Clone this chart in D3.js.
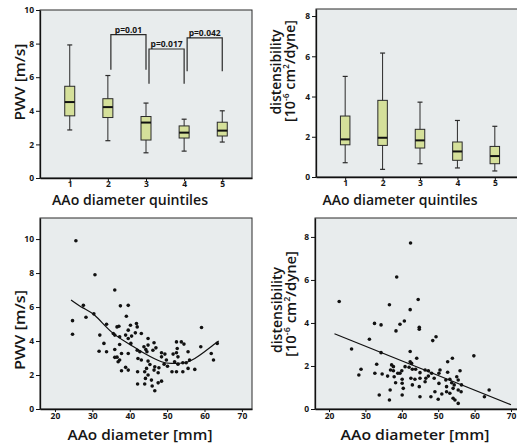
<html>
<head>
<meta charset="utf-8">
<title>PWV and distensibility vs AAo diameter</title>
<style>
  body { margin: 0; background: #fff; }
  text { font-family: "Open Sans", "DejaVu Sans", sans-serif; fill: #161616; }
  .tick text { font-size: 8.5px; font-weight: bold; }
  .axis path, .axis line { stroke: #111; }
  .axis path { stroke-width: 1.3; }
  .title { font-weight: 600; }
</style>
</head>
<body>
<script src="https://cdn.jsdelivr.net/npm/d3@7"></script>
<script>
var width = 517;
var height = 444;

// ---- data ----
var quintiles = ['1', '2', '3', '4', '5'];

// PWV [m/s] by quintile: whisker low, Q1, median, Q3, whisker high
var pwvLow  = [2.86, 2.22, 1.50, 1.60, 2.14];
var pwvQ1   = [3.70, 3.60, 2.26, 2.38, 2.50];
var pwvMed  = [4.52, 4.22, 3.30, 2.70, 2.82];
var pwvQ3   = [5.46, 4.72, 3.66, 3.10, 3.32];
var pwvHigh = [7.92, 6.10, 4.46, 3.50, 4.00];

// distensibility by quintile
var distLow  = [0.71, 0.38, 0.66, 0.45, 0.30];
var distQ1   = [1.60, 1.57, 1.44, 0.83, 0.66];
var distMed  = [1.87, 1.95, 1.82, 1.27, 1.04];
var distQ3   = [3.03, 3.81, 2.37, 1.74, 1.52];
var distHigh = [5.00, 6.16, 3.72, 2.81, 2.52];

// significance brackets (top-left)
var pFrom   = ['2', '3', '4'];
var pTo     = ['3', '4', '5'];
var pTop    = [8.54, 7.68, 8.34];
var pLeg    = [6.45, 5.61, 6.35];
var pLabels = ['p=0.01', 'p=0.017', 'p=0.042'];

var pwvTicks  = [0, 2, 4, 6, 8, 10];
var distTicks = [0, 2, 4, 6, 8];
var diamTicks = [20, 30, 40, 50, 60, 70];

// scatter: AAo diameter [mm] vs PWV [m/s]
var pwvDiam = [25.6, 30.7, 36.0, 24.7, 24.7, 27.6, 28.3, 30.4,
  37.5, 39.6, 39.1, 33.8, 32.0, 33.1, 31.8, 33.8, 35.6, 36.6, 37.1, 36.0,
  37.3, 39.6, 40.2, 41.8, 42.0, 38.9, 39.6, 40.5, 41.5, 43.1, 44.9, 40.3,
  37.3, 36.0, 37.8, 36.0, 36.9, 37.3, 39.6, 42.0, 42.7, 43.8, 44.3, 44.9,
  44.6, 46.2, 42.2, 43.1, 44.9, 45.4, 46.7, 46.5, 47.8, 47.6, 48.5, 49.4,
  48.5, 49.2, 50.1, 37.8, 38.9, 39.6, 42.1, 44.0, 44.5, 44.9, 44.2, 45.8,
  47.6, 48.5, 42.1, 44.0, 46.0, 46.7, 51.6, 52.5, 52.9, 52.5, 53.8, 54.5,
  52.0, 52.9, 54.2, 55.1, 56.0, 55.6, 51.3, 52.5, 54.2, 55.6, 57.4, 59.2,
  59.0, 61.8, 62.4, 63.4, 49.8, 52.7, 47.0, 46.5, 36.6];
var pwvVal = [9.9, 7.9, 7.0, 5.2, 4.4, 6.1, 5.4, 5.6,
  6.07, 6.1, 5.46, 4.99, 4.35, 3.86, 3.4, 3.37, 4.44, 4.83, 4.87, 4.35,
  4.25, 4.64, 4.93, 5.03, 4.83, 4.35, 4.15, 4.29, 4.48, 4.44, 4.15, 3.86,
  3.8, 3.5, 3.27, 3.04, 2.78, 2.88, 3.27, 3.46, 3.37, 3.66, 3.5, 3.76,
  3.37, 3.46, 2.97, 2.88, 2.82, 2.62, 2.48, 2.29, 2.43, 2.13, 3.31, 3.23,
  3.07, 2.64, 2.52, 2.25, 2.45, 2.29, 2.19, 2.19, 2.39, 2.0, 1.8, 1.7,
  1.54, 1.64, 1.47, 1.47, 1.35, 1.07, 3.23, 3.31, 3.07, 3.95, 3.95, 3.82,
  2.78, 2.64, 2.72, 2.72, 2.88, 3.37, 2.19, 2.19, 2.19, 2.39, 2.33, 4.8,
  3.66, 3.27, 2.88, 3.86, 2.88, 3.56, 3.6, 3.9, 3.05];

// fitted curve (PWV)
var pwvFitX = [24.3, 27.5, 30.7, 35.1, 39.6, 44.0, 48.5, 51.1, 54.7, 57.4, 60.0, 62.7, 63.8];
var pwvFitY = [6.42, 5.95, 5.50, 4.54, 3.86, 3.27, 2.78, 2.68, 2.72, 2.97, 3.37, 3.82, 4.00];

// scatter: AAo diameter [mm] vs distensibility
var distDiam = [42.4, 38.6, 22.8, 44.5, 36.6, 42.3,
  32.5, 34.3, 38.4, 39.5, 40.7, 44.8, 44.8, 48.5, 49.4, 31.1, 26.2, 34.3,
  42.3, 44.1, 42.7, 42.0, 37.2, 37.7, 36.9, 37.7, 33.1, 28.8, 28.2, 32.6,
  34.6, 36.1, 37.9, 38.3, 40.0, 39.5, 40.1, 40.1, 40.9, 42.9, 43.8, 45.0,
  46.4, 47.3, 48.2, 42.5, 43.6, 45.0, 46.4, 46.6, 48.9, 44.8, 42.9, 40.1,
  36.6, 33.8, 45.0, 48.0, 49.1, 50.0, 50.2, 51.0, 52.3, 53.2, 54.1, 54.6,
  55.5, 52.3, 52.1, 53.2, 53.7, 54.4, 54.1, 55.5, 56.3, 56.4, 55.5, 55.1,
  56.0, 52.6, 50.5, 50.2, 52.6, 53.9, 59.8, 64.0, 62.7, 42.3, 47.3, 38.9,
  40.4, 36.8];
var distVal = [7.72, 6.14, 5.0, 5.09, 4.85, 4.62,
  3.98, 3.91, 3.63, 3.94, 4.09, 3.8, 3.71, 3.18, 3.36, 3.24, 2.79, 2.62,
  2.67, 2.36, 2.12, 1.94, 2.05, 1.97, 1.81, 1.78, 2.08, 1.85, 1.58, 1.66,
  1.63, 1.53, 1.5, 1.22, 1.78, 1.66, 1.38, 1.2, 1.97, 1.85, 1.85, 1.69,
  1.81, 1.78, 1.66, 1.43, 1.38, 1.43, 1.27, 1.43, 1.43, 1.04, 1.12, 0.65,
  0.42, 0.65, 0.57, 0.57, 0.8, 0.45, 1.19, 0.7, 0.8, 0.73, 0.5, 0.42,
  0.26, 1.04, 1.35, 1.38, 1.22, 1.12, 0.96, 0.88, 0.8, 1.12, 1.35, 1.5,
  1.78, 1.71, 1.81, 1.66, 2.2, 2.36, 2.47, 0.88, 0.57, 2.2, 1.53, 1.66,
  0.96, 0.88];

// regression line (distensibility)
var distFitX = [21.5, 70];
var distFitY = [3.50, 0.20];

// ---- drawing ----
var svg = d3.select('body')
        .append('svg')
        .attr('width', width)
        .attr('height', height);

function panel(left, top, w, h) {
    svg.append('rect')
        .attr('x', left).attr('y', top)
        .attr('width', w).attr('height', h)
        .attr('fill', '#e8eced')
        .attr('stroke', '#2a2a2a')
        .attr('stroke-width', 1);
}

function yAxis(scale, left, ticks) {
    svg.append('g')
        .attr('class', 'axis')
        .attr('transform', 'translate(' + left + ',0)')
        .call(d3.axisLeft(scale).tickValues(ticks).tickSize(4).tickSizeOuter(0).tickPadding(2));
}

function xAxis(axis, bottom) {
    svg.append('g')
        .attr('class', 'axis')
        .attr('transform', 'translate(0,' + bottom + ')')
        .call(axis);
}

function label(txt, x, y, len, rotate) {
    var t = svg.append('text')
        .attr('class', 'title')
        .attr('text-anchor', 'middle')
        .attr('font-size', 15)
        .attr('textLength', len)
        .attr('lengthAdjust', 'spacingAndGlyphs')
        .text(txt);
    if (rotate) t.attr('transform', 'translate(' + x + ',' + y + ') rotate(-90)');
    else t.attr('x', x).attr('y', y);
    return t;
}

function unitLabel(x, y, len) {
    var t = svg.append('text')
        .attr('class', 'title')
        .attr('text-anchor', 'middle')
        .attr('font-size', 15)
        .attr('textLength', len)
        .attr('lengthAdjust', 'spacingAndGlyphs')
        .attr('transform', 'translate(' + x + ',' + y + ') rotate(-90)');
    t.append('tspan').text('[10');
    t.append('tspan').attr('font-size', 9).attr('dy', -6).text('-6');
    t.append('tspan').attr('dy', 6).text(' cm');
    t.append('tspan').attr('font-size', 9).attr('dy', -6).text('2');
    t.append('tspan').attr('dy', 6).text('/dyne]');
}

function boxes(x, y, low, q1, med, q3, high, bw) {
    var g = svg.append('g');
    quintiles.forEach(function (c, i) {
        var cx = x(c);
        g.append('line')
            .attr('x1', cx).attr('x2', cx)
            .attr('y1', y(high[i])).attr('y2', y(low[i]))
            .attr('stroke', '#2a2a2a').attr('stroke-width', 1);
        [low[i], high[i]].forEach(function (v) {
            g.append('line')
                .attr('x1', cx - 2.5).attr('x2', cx + 2.5)
                .attr('y1', y(v)).attr('y2', y(v))
                .attr('stroke', '#2a2a2a').attr('stroke-width', 1.2);
        });
        g.append('rect')
            .attr('x', cx - bw / 2).attr('width', bw)
            .attr('y', y(q3[i])).attr('height', y(q1[i]) - y(q3[i]))
            .attr('fill', '#d5e09a')
            .attr('stroke', '#2a2a2a').attr('stroke-width', 1);
        g.append('line')
            .attr('x1', cx - bw / 2).attr('x2', cx + bw / 2)
            .attr('y1', y(med[i])).attr('y2', y(med[i]))
            .attr('stroke', '#111').attr('stroke-width', 2);
    });
}

function dots(x, y, xs, ys) {
    svg.append('g')
        .selectAll('circle')
        .data(xs)
        .enter()
        .append('circle')
        .attr('cx', function (d) { return x(d); })
        .attr('cy', function (d, i) { return y(ys[i]); })
        .attr('r', 1.8)
        .attr('fill', '#111');
}

function fitLine(x, y, xs, ys, curve) {
    var line = d3.line()
        .x(function (d) { return x(d); })
        .y(function (d, i) { return y(ys[i]); })
        .curve(curve);
    svg.append('path')
        .attr('d', line(xs))
        .attr('fill', 'none')
        .attr('stroke', '#111')
        .attr('stroke-width', 1.2);
}

// top-left: PWV boxplots
var x1 = d3.scalePoint().domain(quintiles).range([40, 252]).padding(0.78);
var y1 = d3.scaleLinear().domain([0, 10]).range([178, 10]);
panel(40, 10, 212, 168);
boxes(x1, y1, pwvLow, pwvQ1, pwvMed, pwvQ3, pwvHigh, 10);

var br = svg.append('g');
pLabels.forEach(function (lab, i) {
    var xa = x1(pFrom[i]) + 3, xb = x1(pTo[i]);
    var yt = y1(pTop[i]), yl = y1(pLeg[i]);
    br.append('path')
        .attr('d', 'M' + xa + ',' + yl + 'V' + yt + 'H' + xb + 'V' + yl)
        .attr('fill', 'none')
        .attr('stroke', '#2a2a2a')
        .attr('stroke-width', 1.2);
    br.append('text')
        .attr('x', (xa + xb) / 2)
        .attr('y', yt - 2)
        .attr('text-anchor', 'middle')
        .attr('font-size', 8.5)
        .attr('font-weight', 'bold')
        .text(lab);
});
yAxis(y1, 40, pwvTicks);
xAxis(d3.axisBottom(x1).tickSize(3).tickSizeOuter(0).tickPadding(0), 178);
label('PWV [m/s]', 25, 82, 77, true);
label('AAo diameter quintiles', 130, 205, 156, false);

// top-right: distensibility boxplots
var x2 = d3.scalePoint().domain(quintiles).range([316, 524]).padding(0.78);
var y2 = d3.scaleLinear().domain([0, 8.35]).range([177, 9]);
panel(316, 9, 212, 168);
boxes(x2, y2, distLow, distQ1, distMed, distQ3, distHigh, 9.5);
yAxis(y2, 316, distTicks);
xAxis(d3.axisBottom(x2).tickSize(3).tickSizeOuter(0).tickPadding(0), 177);
label('distensibility', 281, 72, 85, true);
unitLabel(295, 71, 102);
label('AAo diameter quintiles', 400, 205, 155, false);

// bottom-left: PWV scatter
var x3 = d3.scaleLinear().domain([16, 72.7]).range([40, 252]);
var y3 = d3.scaleLinear().domain([0, 11.24]).range([409, 218]);
panel(40, 218, 212, 191);
dots(x3, y3, pwvDiam, pwvVal);
fitLine(x3, y3, pwvFitX, pwvFitY, d3.curveNatural);
yAxis(y3, 40, pwvTicks);
xAxis(d3.axisBottom(x3).tickValues(diamTicks).tickSize(3).tickSizeOuter(0).tickPadding(1), 409);
label('PWV [m/s]', 25, 330, 80, true);
label('AAo diameter [mm]', 140, 440, 145, false);

// bottom-right: distensibility scatter
var x4 = d3.scaleLinear().domain([16.15, 74.4]).range([315, 527]);
var y4 = d3.scaleLinear().domain([0, 8.88]).range([409, 218]);
panel(315, 218, 212, 191);
dots(x4, y4, distDiam, distVal);
fitLine(x4, y4, distFitX, distFitY, d3.curveLinear);
yAxis(y4, 315, distTicks);
xAxis(d3.axisBottom(x4).tickValues(diamTicks).tickSize(3).tickSizeOuter(0).tickPadding(1), 409);
label('distensibility', 282, 310, 86, true);
unitLabel(296, 304, 106);
label('AAo diameter [mm]', 415, 440, 149, false);
</script>
</body>
</html>
